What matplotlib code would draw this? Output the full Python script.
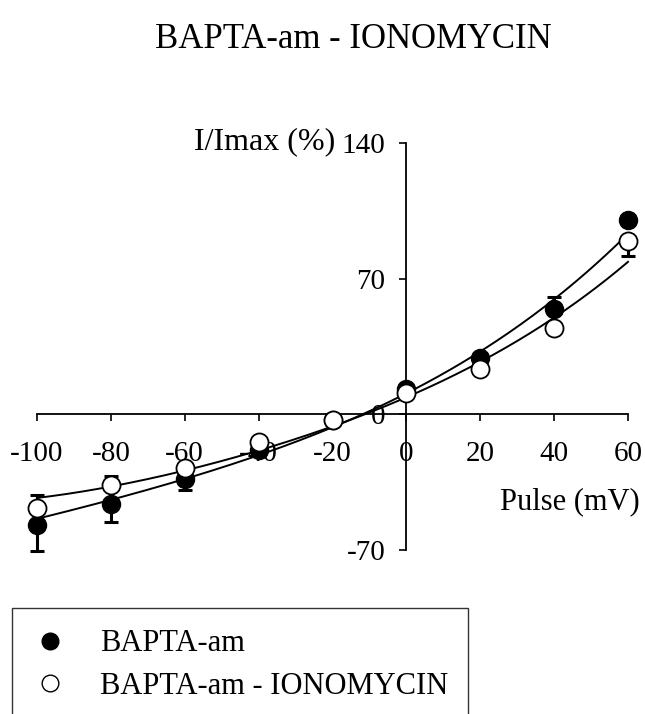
import numpy as np
import matplotlib
matplotlib.use("Agg")
import matplotlib.pyplot as plt
from matplotlib.lines import Line2D

plt.rcParams['font.family'] = ['Liberation Serif', 'DejaVu Serif']

# ---- data ----
voltage = [-100, -80, -60, -40, -20, 0, 20, 40, 60]
bapta = [-57.3, -46.4, -33.5, -18.6, -3.0, 13.0, 29.0, 54.4, 100.5]
bapta_err_lo = [13.0, 9.0, 5.7, 2.0, 0.0, 0.0, 0.0, 0.0, 0.0]
bapta_err_hi = [0.0, 0.0, 0.0, 0.0, 0.0, 0.0, 0.0, 6.0, 0.0]
iono = [-48.5, -36.6, -27.9, -14.4, -3.0, 11.0, 23.3, 44.6, 89.6]
iono_err_lo = [0.0, 0.0, 0.0, 0.0, 0.0, 0.0, 0.0, 0.0, 8.0]
iono_err_hi = [6.7, 5.0, 2.0, 0.0, 0.0, 0.0, 0.0, 0.0, 0.0]

# fitted curves
fit_v = [-100, -80, -60, -40, -20, -11.7, 0, 20, 40, 60]
fit_bapta = [-53.7, -45.0, -32.0, -22.0, -6.5, 0.0, 11.5, 31.5, 60.0, 93.0]
fit_iono = [-43.4, -36.7, -28.4, -20.6, -5.5, 0.0, 9.0, 27.5, 49.0, 79.0]

xticks = [-100, -80, -60, -40, -20, 0, 20, 40, 60]
yticks = [-70, 0, 70, 140]

W, H = 645, 714
fig = plt.figure(figsize=(W / 100, H / 100), dpi=100)
ax = fig.add_axes([37 / W, 1 - 550 / H, (628 - 37) / W, (550 - 143) / H])
ax.set_xlim(-100, 60)
ax.set_ylim(-70, 140)

for s in ['top', 'right']:
    ax.spines[s].set_visible(False)
ax.spines['left'].set_position(('data', 0))
ax.spines['bottom'].set_position(('data', 0))
for s in ['left', 'bottom']:
    ax.spines[s].set_linewidth(1.3)
    ax.spines[s].set_color('black')

ax.set_xticks(xticks)
ax.set_xticklabels([str(t) for t in xticks])
ax.set_yticks(yticks)
ax.set_yticklabels([str(t) for t in yticks])
ax.tick_params(axis='x', direction='out', length=5, width=1.2, pad=14, labelsize=21)
ax.tick_params(axis='y', direction='out', length=5, width=1.2, pad=10, labelsize=21)

# fitted curves (smooth polynomial through picture samples)
xs = np.linspace(-100, 60, 300)
for fv in (fit_bapta, fit_iono):
    c = np.polyfit(fit_v, fv, 4)
    ax.plot(xs, np.polyval(c, xs), color='black', lw=1.4, zorder=2, clip_on=False)

for vals, lo, hi in ((bapta, bapta_err_lo, bapta_err_hi), (iono, iono_err_lo, iono_err_hi)):
    eb = ax.errorbar(voltage, vals, yerr=[lo, hi], fmt='none',
                     ecolor='black', elinewidth=2.2, capsize=5, capthick=2.2, zorder=3)
    for art in eb.lines[1] + eb.lines[2]:
        art.set_clip_on(False)
ax.plot(voltage, bapta, 'o', ms=13, mfc='black', mec='black', zorder=4, clip_on=False)
ax.plot(voltage, iono, 'o', ms=13, mfc='white', mec='black', mew=1.3, zorder=5, clip_on=False)

fig.text(353 / W, 1 - 40 / H, 'BAPTA-am - IONOMYCIN', ha='center', va='center', fontsize=25)
fig.text(335 / W, 1 - 142 / H, 'I/Imax (%)', ha='right', va='center', fontsize=23)
fig.text(640 / W, 1 - 502 / H, 'Pulse (mV)', ha='right', va='center', fontsize=22)

handles = [Line2D([], [], ls='none', marker='o', ms=12, mfc='black', mec='black'),
           Line2D([], [], ls='none', marker='o', ms=12, mfc='white', mec='black', mew=1.0)]
leg = fig.legend(handles, ['BAPTA-am', 'BAPTA-am - IONOMYCIN'],
                 loc='upper left', bbox_to_anchor=(12 / W, 0, 456 / W, 1 - 608 / H),
                 mode='expand', borderaxespad=0, fontsize=22, frameon=True,
                 fancybox=False, edgecolor='black', borderpad=0.7,
                 handlelength=1.11, handletextpad=1.08, labelspacing=0.43)
leg.get_frame().set_linewidth(1.0)

fig.savefig('out.png', dpi=100)
